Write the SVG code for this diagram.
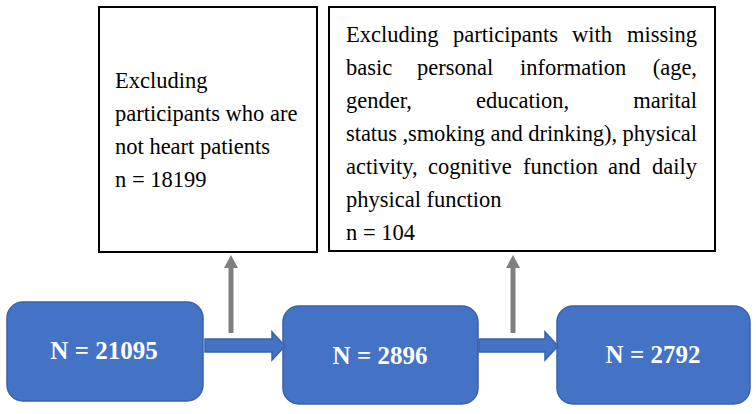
<svg xmlns="http://www.w3.org/2000/svg" width="756" height="414" viewBox="0 0 756 414">
<style>
.ex{fill:#fff;stroke:#000;stroke-width:2}
.t{font-family:"Liberation Serif","Times New Roman",serif;font-size:22.5px;fill:#000}
.blue{fill:#4472C4;stroke:#3A62A8;stroke-width:1.5}
.bt{font-family:"Liberation Serif","Times New Roman",serif;font-size:25px;font-weight:bold;fill:#fff;text-anchor:middle}
.gray{stroke:#7F7F7F;stroke-width:5;fill:none}
.gh{fill:#7F7F7F}
</style>
<rect width="756" height="414" fill="#fff"/>
<g id="exclude1">
<rect class="ex" x="99" y="7" width="218" height="245"/>
<text class="t" x="115" y="88">Excluding</text>
<text class="t" x="115" y="121">participants who are</text>
<text class="t" x="115" y="154">not heart patients</text>
<text class="t" x="115" y="187">n = 18199</text>
</g>
<g id="exclude2">
<rect class="ex" x="329" y="7" width="386" height="244"/>
<text class="t" y="42"><tspan x="346">Excluding</tspan><tspan x="453">participants</tspan><tspan x="572">with</tspan><tspan x="697" text-anchor="end">missing</tspan></text>
<text class="t" y="75"><tspan x="346">basic</tspan><tspan x="417">personal</tspan><tspan x="520">information</tspan><tspan x="697" text-anchor="end">(age,</tspan></text>
<text class="t" y="108"><tspan x="346">gender,</tspan><tspan x="476">education,</tspan><tspan x="697" text-anchor="end">marital</tspan></text>
<text class="t" x="346" y="141" textLength="351" lengthAdjust="spacing">status ,smoking and drinking), physical</text>
<text class="t" y="174"><tspan x="346">activity,</tspan><tspan x="428">cognitive</tspan><tspan x="523">function</tspan><tspan x="608">and</tspan><tspan x="697" text-anchor="end">daily</tspan></text>
<text class="t" x="346" y="207">physical function</text>
<text class="t" x="346" y="240">n = 104</text>
</g>
<g id="n1">
<rect class="blue" x="7" y="302" width="196" height="99" rx="16"/>
<text class="bt" x="104" y="359">N = 21095</text>
</g>
<g id="n2">
<rect class="blue" x="283" y="306" width="195" height="98" rx="16"/>
<text class="bt" x="380" y="364">N = 2896</text>
</g>
<g id="n3">
<rect class="blue" x="557" y="306" width="193" height="98" rx="16"/>
<text class="bt" x="653" y="363">N = 2792</text>
</g>
<g id="connectors">
<polygon class="blue" points="205,339 272,339 272,332 285,346 272,360 272,352 205,352"/>
<polygon class="blue" points="479,339 545,339 545,332 558,346 545,360 545,352 479,352"/>
<line class="gray" x1="231" y1="333" x2="231" y2="268"/>
<path class="gh" d="M224,268 L231,255 L238,268 Z"/>
<line class="gray" x1="513" y1="333" x2="513" y2="268"/>
<path class="gh" d="M506,268 L513,255 L520,268 Z"/>
</g>
</svg>
